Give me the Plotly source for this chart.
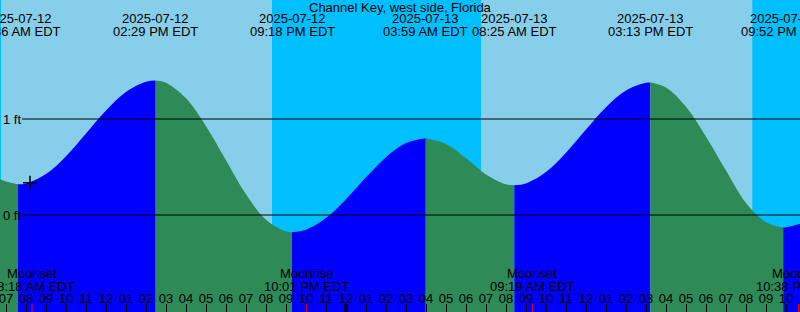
import plotly.graph_objects as go
import pandas as pd

# ---------------- data ----------------
station = "Channel Key, west side, Florida"

# tide extremes (high / low)
extreme_times = ["2025-07-12 07:36", "2025-07-12 14:29", "2025-07-12 21:18",
                 "2025-07-13 03:59", "2025-07-13 08:25", "2025-07-13 15:13",
                 "2025-07-13 21:52"]
extreme_heights = [0.32, 1.40, -0.18, 0.80, 0.31, 1.38, -0.13]

# tide level (ft)
curve_times = ["2025-07-12 06:42", "2025-07-12 07:00", "2025-07-12 08:00",
               "2025-07-12 09:00", "2025-07-12 10:00", "2025-07-12 11:00",
               "2025-07-12 12:00", "2025-07-12 13:00", "2025-07-12 14:00",
               "2025-07-12 15:00", "2025-07-12 16:00", "2025-07-12 17:00",
               "2025-07-12 18:00", "2025-07-12 19:00", "2025-07-12 20:00",
               "2025-07-12 21:00", "2025-07-12 22:00", "2025-07-12 23:00",
               "2025-07-13 00:00", "2025-07-13 01:00", "2025-07-13 02:00",
               "2025-07-13 03:00", "2025-07-13 05:00", "2025-07-13 06:00",
               "2025-07-13 07:00", "2025-07-13 08:00", "2025-07-13 09:00",
               "2025-07-13 10:00", "2025-07-13 11:00", "2025-07-13 12:00",
               "2025-07-13 13:00", "2025-07-13 14:00", "2025-07-13 15:00",
               "2025-07-13 16:00", "2025-07-13 17:00", "2025-07-13 18:00",
               "2025-07-13 19:00", "2025-07-13 20:00", "2025-07-13 21:00",
               "2025-07-13 22:00", "2025-07-13 22:42"]
curve_heights = [0.375, 0.35, 0.329,
                 0.427, 0.613, 0.850,
                 1.089, 1.281, 1.387,
                 1.378, 1.215, 0.925,
                 0.571, 0.215, -0.05,
                 -0.172, -0.154, -0.032,
                 0.164, 0.392, 0.602,
                 0.749, 0.739, 0.590,
                 0.423, 0.320, 0.329,
                 0.447, 0.648, 0.890,
                 1.123, 1.298, 1.377,
                 1.329, 1.128, 0.816,
                 0.463, 0.125, -0.075,
                 -0.128, -0.09]

# current-time marker
now_time = ["2025-07-12 08:12"]
now_height = [0.335]

# sunrise / sunset
sunrise_times = ["2025-07-12 06:45", "2025-07-13 06:45"]
sunset_times = ["2025-07-12 20:18", "2025-07-13 20:19"]

# moon events
moon_times = ["2025-07-12 08:18", "2025-07-12 22:01", "2025-07-13 09:19", "2025-07-13 22:38"]
moon_events = ["Moonset", "Moonrise", "Moonset", "Moonrise"]

midnights = ["2025-07-13 00:00"]

height_ticks = [0, 1]
height_tick_text = ["0 ft", "1 ft"]

x_range = ["2025-07-12 06:42", "2025-07-13 22:42"]
y_range = [-1.0104, 2.2396]

# ---------------- styles ----------------
DAY = "#87CEEB"
NIGHT = "#00BFFF"
RISING = "#0000FF"
FALLING = "#2E8B57"
FONT = "Liberation Sans"
FS = 13

fig = go.Figure()

# merge curve samples and extremes
pts = pd.DataFrame({
    "t": pd.to_datetime(curve_times + extreme_times),
    "h": curve_heights + extreme_heights,
}).sort_values("t").reset_index(drop=True)

bounds = [pd.Timestamp(x_range[0])] + list(pd.to_datetime(extreme_times)) + [pd.Timestamp(x_range[1])]
for b0, b1 in zip(bounds[:-1], bounds[1:]):
    seg = pts[(pts.t >= b0) & (pts.t <= b1)]
    rising = seg.h.iloc[-1] > seg.h.iloc[0]
    color = RISING if rising else FALLING
    fig.add_trace(go.Scatter(x=seg.t, y=[y_range[0]] * len(seg), mode="lines",
                             line=dict(width=0, color=color), hoverinfo="skip",
                             showlegend=False))
    fig.add_trace(go.Scatter(x=seg.t, y=seg.h, mode="lines",
                             line=dict(width=0, color=color, shape="spline", smoothing=1.0),
                             fill="tonexty", fillcolor=color, hoverinfo="skip",
                             showlegend=False))

fig.add_trace(go.Scatter(x=now_time, y=now_height, mode="markers",
                         marker=dict(symbol="cross-thin", size=10,
                                     line=dict(width=1.5, color="black")),
                         showlegend=False, hoverinfo="skip"))

shapes = []
# night shading
night_starts = [x_range[0]] + sunset_times
night_ends = sunrise_times + [x_range[1]]
for s, e in zip(night_starts, night_ends):
    shapes.append(dict(type="rect", xref="x", yref="paper", x0=s, x1=e, y0=0, y1=1,
                       fillcolor=NIGHT, line=dict(width=0), layer="below"))
# height reference lines
for v in height_ticks:
    shapes.append(dict(type="line", xref="paper", yref="y", x0=0.0275, x1=1, y0=v, y1=v,
                       line=dict(color="black", width=1), layer="above"))
# moon event ticks
for t in moon_times:
    shapes.append(dict(type="line", xref="x", yref="paper", x0=t, x1=t, y0=0, y1=8 / 312,
                       line=dict(color="red", width=1), layer="above"))
for t in midnights:
    shapes.append(dict(type="line", xref="x", yref="paper", x0=t, x1=t, y0=0, y1=8 / 312,
                       line=dict(color="black", width=3), layer="above"))

txt = dict(family=FONT, size=FS, color="black")
annotations = [dict(text=station, xref="paper", yref="paper", x=0.5, y=1 - 7.5 / 312,
                    showarrow=False, xanchor="center", yanchor="middle", font=txt)]
for v, lab in zip(height_ticks, height_tick_text):
    annotations.append(dict(text=lab, xref="paper", yref="y", x=0, y=v, xshift=1,
                            showarrow=False, xanchor="left", yanchor="middle", font=txt))
for t in extreme_times:
    ts = pd.Timestamp(t)
    annotations.append(dict(text=ts.strftime("%Y-%m-%d"), x=t, xref="x", yref="paper",
                            y=1 - 18.5 / 312, showarrow=False, xanchor="center", yanchor="middle",
                            font=txt))
    annotations.append(dict(text=ts.strftime("%I:%M %p EDT"), x=t, xref="x", yref="paper",
                            y=1 - 31.5 / 312, showarrow=False, xanchor="center", yanchor="middle",
                            font=txt))
for t, ev in zip(moon_times, moon_events):
    ts = pd.Timestamp(t)
    annotations.append(dict(text=ev, x=t, xref="x", yref="paper",
                            y=1 - 273.5 / 312, showarrow=False, xanchor="center", yanchor="middle",
                            font=txt))
    annotations.append(dict(text=ts.strftime("%I:%M %p EDT"), x=t, xref="x", yref="paper",
                            y=1 - 286 / 312, showarrow=False, xanchor="center", yanchor="middle",
                            font=txt))

fig.update_layout(
    width=800, height=312,
    margin=dict(l=0, r=0, t=0, b=0),
    paper_bgcolor=DAY, plot_bgcolor=DAY,
    shapes=shapes, annotations=annotations,
    font=txt,
    xaxis=dict(type="date", range=x_range, dtick=3600000, tick0="2025-07-12 00:00",
               tickformat="%I", ticks="inside", ticklen=8, tickwidth=1, tickcolor="black",
               ticklabelposition="inside", ticklabeloverflow="allow", ticklabelstandoff=-2,
               showgrid=False, zeroline=False, showline=False, tickfont=txt),
    yaxis=dict(range=y_range, showticklabels=False, ticks="", showgrid=False,
               zeroline=False, showline=False),
)

fig.write_html("out.html")
